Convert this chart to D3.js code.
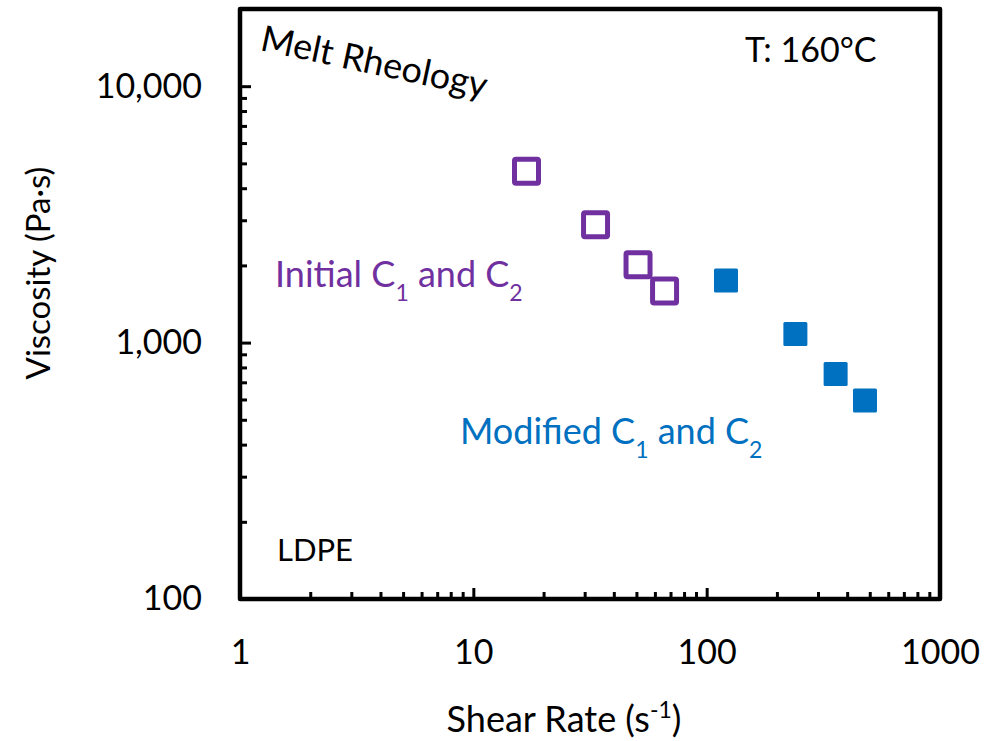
<!DOCTYPE html>
<html>
<head>
<meta charset="utf-8">
<script src="https://cdn.jsdelivr.net/npm/d3@7"></script>
<style>
  body { margin: 0; background: #fff; }
  text { font-family: Lato, "Open Sans", sans-serif; }
</style>
</head>
<body>
<div id="chart"></div>
<script>
const svgWidth = 999;
const svgHeight = 741;

// data
const initialRate = [16.9, 33.4, 50.8, 66.0];
const initialVisc = [4660, 2880, 2010, 1590];
const modifiedRate = [121, 240, 357, 477];
const modifiedVisc = [1745, 1080, 754, 594];

const xMajor = [1, 10, 100, 1000];
const xMinor = [2, 3, 4, 5, 6, 7, 8, 9, 20, 30, 40, 50, 60, 70, 80, 90, 200, 300, 400, 500, 600, 700, 800, 900];
const yMajor = [100, 1000, 10000];
const yMinor = [200, 300, 400, 500, 600, 700, 800, 900, 2000, 3000, 4000, 5000, 6000, 7000, 8000, 9000];

const purple = "#7030a0";
const blue = "#0070c0";

const svg = d3.select("#chart")
  .append("svg")
  .attr("width", svgWidth)
  .attr("height", svgHeight);

const x = d3.scaleLog().domain([1, 1000]).range([240, 940]);
const y = d3.scaleLog().domain([100, 20000]).range([599, 9]);

// x axis: major ticks with labels, minor ticks without
const xAxisMajor = d3.axisBottom(x)
  .tickValues(xMajor)
  .tickFormat(d3.format("d"))
  .tickSizeInner(-11)
  .tickSizeOuter(0)
  .tickPadding(41);

const xAxisMinor = d3.axisBottom(x)
  .tickValues(xMinor)
  .tickFormat("")
  .tickSizeInner(-7)
  .tickSizeOuter(0);

svg.append("g")
  .attr("transform", `translate(0, ${y.range()[0]})`)
  .call(xAxisMajor)
  .call(g => g.select(".domain").remove())
  .call(g => g.selectAll("line").attr("stroke", "#000").attr("stroke-width", 3))
  .call(g => g.selectAll("text").attr("font-size", 34).attr("fill", "#000")
    .attr("font-family", "Lato, sans-serif"));

svg.append("g")
  .attr("transform", `translate(0, ${y.range()[0]})`)
  .call(xAxisMinor)
  .call(g => g.select(".domain").remove())
  .call(g => g.selectAll("line").attr("stroke", "#000").attr("stroke-width", 3));

// y axis
const yAxisMajor = d3.axisLeft(y)
  .tickValues(yMajor)
  .tickFormat(d3.format(","))
  .tickSizeInner(-11)
  .tickSizeOuter(0)
  .tickPadding(38);

const yAxisMinor = d3.axisLeft(y)
  .tickValues(yMinor)
  .tickFormat("")
  .tickSizeInner(-7)
  .tickSizeOuter(0);

svg.append("g")
  .attr("transform", `translate(${x.range()[0]}, 0)`)
  .call(yAxisMajor)
  .call(g => g.select(".domain").remove())
  .call(g => g.selectAll("line").attr("stroke", "#000").attr("stroke-width", 3))
  .call(g => g.selectAll("text").attr("font-size", 34).attr("fill", "#000")
    .attr("font-family", "Lato, sans-serif"));

svg.append("g")
  .attr("transform", `translate(${x.range()[0]}, 0)`)
  .call(yAxisMinor)
  .call(g => g.select(".domain").remove())
  .call(g => g.selectAll("line").attr("stroke", "#000").attr("stroke-width", 3));

// plot frame
svg.append("rect")
  .attr("x", x.range()[0])
  .attr("y", y.range()[1])
  .attr("width", x.range()[1] - x.range()[0])
  .attr("height", y.range()[0] - y.range()[1])
  .attr("fill", "none")
  .attr("stroke", "#000")
  .attr("stroke-width", 4.5)
  .attr("stroke-linejoin", "round");

// axis titles
const xTitle = svg.append("text")
  .attr("x", 564)
  .attr("y", 732)
  .attr("text-anchor", "middle")
  .attr("font-size", 36)
  .text("Shear Rate (s");
xTitle.append("tspan").attr("baseline-shift", "super").attr("font-size", 23).text("-1");
xTitle.append("tspan").text(")");

svg.append("text")
  .attr("transform", "translate(50, 273) rotate(-90)")
  .attr("text-anchor", "middle")
  .attr("font-size", 33)
  .text("Viscosity (Pa\u00b7s)");

// markers
const initial = initialRate.map((r, i) => ({ rate: r, visc: initialVisc[i] }));
const modified = modifiedRate.map((r, i) => ({ rate: r, visc: modifiedVisc[i] }));

const openSize = 24;
svg.append("g").selectAll("rect")
  .data(initial)
  .enter()
  .append("rect")
  .attr("x", d => x(d.rate) - openSize / 2)
  .attr("y", d => y(d.visc) - openSize / 2)
  .attr("width", openSize)
  .attr("height", openSize)
  .attr("rx", 1.5)
  .attr("fill", "none")
  .attr("stroke", purple)
  .attr("stroke-width", 5);

const fillSize = 24;
svg.append("g").selectAll("rect")
  .data(modified)
  .enter()
  .append("rect")
  .attr("x", d => x(d.rate) - fillSize / 2)
  .attr("y", d => y(d.visc) - fillSize / 2)
  .attr("width", fillSize)
  .attr("height", fillSize)
  .attr("rx", 1.5)
  .attr("fill", blue);

// annotations
function subLabel(tx, ty, color, parts) {
  const t = svg.append("text")
    .attr("x", tx)
    .attr("y", ty)
    .attr("font-size", 36)
    .attr("fill", color);
  parts.forEach(p => {
    if (p.sub) {
      t.append("tspan").attr("baseline-shift", "sub").attr("font-size", 23).text(p.sub);
    } else {
      t.append("tspan").text(p.txt);
    }
  });
}

subLabel(275, 287, purple, [{ txt: "Initial C" }, { sub: "1" }, { txt: " and C" }, { sub: "2" }]);
subLabel(460, 444, blue, [{ txt: "Modified C" }, { sub: "1" }, { txt: " and C" }, { sub: "2" }]);

svg.append("text")
  .attr("x", 277)
  .attr("y", 561)
  .attr("font-size", 31)
  .text("LDPE");

svg.append("text")
  .attr("x", 745)
  .attr("y", 62)
  .attr("font-size", 34)
  .text("T: 160\u00b0C");

svg.append("text")
  .attr("transform", "translate(259, 50) rotate(12)")
  .attr("font-size", 36)
  .text("Melt Rheology");
</script>
</body>
</html>
